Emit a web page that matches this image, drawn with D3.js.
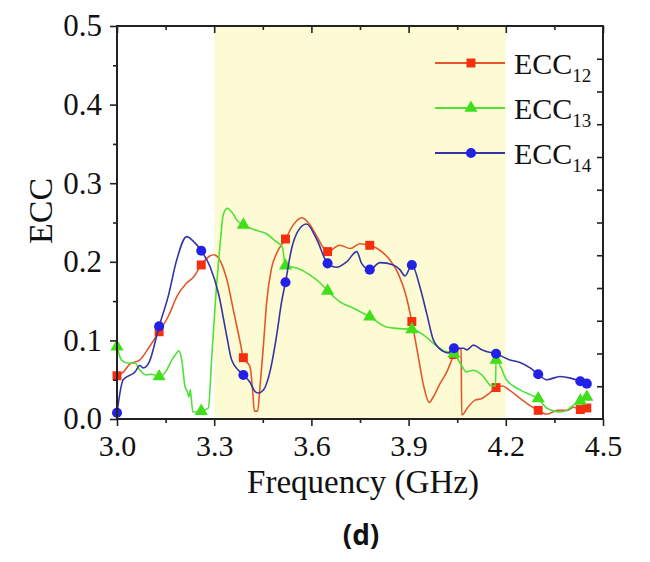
<!DOCTYPE html>
<html>
<head>
<meta charset="utf-8">
<script src="https://cdn.jsdelivr.net/npm/d3@7"></script>
<style>
  html, body { margin: 0; padding: 0; background: #fff; }
  svg { display: block; }
</style>
</head>
<body>
<svg id="chart" width="650" height="562"></svg>
<script>
// ---------------- DATA ----------------
const xTicks = [3.0, 3.3, 3.6, 3.9, 4.2, 4.5];
const yTicks = [0.0, 0.1, 0.2, 0.3, 0.4, 0.5];
const bandStart = 3.3, bandEnd = 4.2;
const markerFreqs = [3.0, 3.13, 3.26, 3.39, 3.52, 3.65, 3.78, 3.91, 4.04, 4.17, 4.30, 4.43, 4.45];

const freq12 = [3.00,3.02,3.04,3.07,3.10,3.13,3.16,3.185,3.215,3.235,3.26,3.285,3.30,3.32,3.34,3.36,3.38,3.39,3.41,3.418,3.424,3.434,3.441,3.452,3.462,3.477,3.493,3.52,3.544,3.57,3.596,3.616,3.65,3.688,3.72,3.75,3.78,3.81,3.843,3.868,3.89,3.91,3.93,3.945,3.964,3.976,3.997,4.018,4.04,4.05,4.062,4.064,4.085,4.105,4.126,4.15,4.17,4.19,4.21,4.245,4.275,4.30,4.326,4.36,4.39,4.41,4.43,4.45];
const ecc12  = [0.055,0.060,0.070,0.075,0.092,0.111,0.132,0.156,0.173,0.180,0.196,0.207,0.209,0.200,0.176,0.137,0.098,0.078,0.067,0.040,0.010,0.010,0.039,0.094,0.149,0.192,0.211,0.229,0.247,0.256,0.247,0.233,0.213,0.221,0.217,0.223,0.221,0.215,0.202,0.185,0.160,0.124,0.079,0.045,0.021,0.028,0.045,0.060,0.082,0.090,0.088,0.005,0.016,0.024,0.026,0.033,0.040,0.042,0.037,0.026,0.017,0.011,0.006,0.011,0.011,0.015,0.012,0.014];

const freq13 = [3.00,3.014,3.035,3.056,3.071,3.09,3.106,3.13,3.15,3.169,3.184,3.19,3.20,3.21,3.217,3.222,3.226,3.234,3.246,3.26,3.282,3.292,3.302,3.318,3.328,3.34,3.36,3.37,3.39,3.43,3.46,3.49,3.51,3.52,3.555,3.596,3.627,3.65,3.688,3.73,3.78,3.832,3.873,3.91,3.946,3.977,4.007,4.04,4.059,4.079,4.10,4.126,4.157,4.168,4.17,4.202,4.244,4.275,4.30,4.326,4.367,4.388,4.41,4.43,4.45];
const ecc13  = [0.092,0.075,0.071,0.071,0.062,0.056,0.057,0.054,0.060,0.075,0.084,0.087,0.075,0.041,0.035,0.028,0.037,0.009,0.009,0.010,0.014,0.075,0.139,0.221,0.260,0.268,0.260,0.253,0.247,0.240,0.236,0.226,0.219,0.195,0.192,0.183,0.173,0.163,0.149,0.141,0.130,0.117,0.115,0.114,0.107,0.096,0.087,0.083,0.071,0.060,0.062,0.056,0.042,0.042,0.075,0.050,0.037,0.031,0.026,0.014,0.009,0.011,0.018,0.023,0.028];

const freq14 = [3.00,3.019,3.056,3.07,3.081,3.10,3.13,3.158,3.184,3.215,3.236,3.26,3.287,3.313,3.339,3.354,3.39,3.41,3.426,3.435,3.452,3.472,3.493,3.508,3.52,3.539,3.56,3.585,3.616,3.65,3.678,3.709,3.74,3.755,3.78,3.812,3.853,3.873,3.889,3.91,3.935,3.956,3.977,4.007,4.022,4.04,4.07,4.08,4.10,4.126,4.14,4.17,4.213,4.244,4.275,4.30,4.326,4.367,4.40,4.43,4.45];
const ecc14  = [0.008,0.050,0.060,0.068,0.065,0.073,0.118,0.156,0.202,0.232,0.226,0.214,0.194,0.160,0.105,0.075,0.056,0.047,0.035,0.033,0.037,0.060,0.107,0.149,0.174,0.217,0.240,0.248,0.229,0.198,0.193,0.200,0.213,0.198,0.190,0.199,0.196,0.190,0.182,0.196,0.168,0.134,0.100,0.086,0.084,0.090,0.090,0.088,0.094,0.088,0.086,0.083,0.075,0.072,0.065,0.057,0.050,0.054,0.052,0.048,0.045];

const seriesNames = ["12", "13", "14"];
const lineColors = ["#e2582c", "#4fe03a", "#3434a6"];
const markerColors = ["#f52e10", "#3fe01a", "#2222e6"];
const markerShapes = [d3.symbolSquare, d3.symbolTriangle, d3.symbolCircle];

// ---------------- LAYOUT ----------------
const svg = d3.select("#chart");
const L = 117, R = 603, T = 26, B = 419;
const x = d3.scaleLinear().domain([3.0, 4.5]).range([L, R]);
const y = d3.scaleLinear().domain([0, 0.5]).range([B, T]);
const yRight = d3.scaleLinear().domain([0, 0.6]).range([B, T]);
const serif = "'Liberation Serif','Times New Roman',serif";
const axisColor = "#222";

// band
svg.append("rect")
  .attr("x", x(bandStart)).attr("y", T)
  .attr("width", x(bandEnd) - x(bandStart)).attr("height", B - T)
  .attr("fill", "#fdfbd3");

// series
const series = [
  {f: freq12, v: ecc12},
  {f: freq13, v: ecc13},
  {f: freq14, v: ecc14}
];
const line = d3.line().x(d => x(d[0])).y(d => y(d[1])).curve(d3.curveMonotoneX);
const plot = svg.append("g");
series.forEach((s, i) => {
  const pts = s.f.map((f, k) => [f, s.v[k]]);
  plot.append("path").datum(pts)
    .attr("d", line).attr("fill", "none")
    .attr("stroke", lineColors[i]).attr("stroke-width", 1.6)
    .attr("stroke-linejoin", "round");
  const mpts = pts.filter(p => markerFreqs.some(m => Math.abs(m - p[0]) < 1e-6));
  plot.selectAll(null).data(mpts).enter().append("path")
    .attr("d", d3.symbol().type(markerShapes[i]).size(i === 1 ? 75 : 80))
    .attr("transform", d => `translate(${x(d[0])},${y(d[1])})`)
    .attr("fill", markerColors[i]);
});

// axes
function styleAxis(g) {
  g.selectAll(".domain").remove();
  g.selectAll("line").attr("stroke", axisColor).attr("stroke-width", 1.6);
}
const fmt = d3.format(".1f");
// bottom major
svg.append("g").attr("transform", `translate(0,${B})`)
  .call(d3.axisBottom(x).tickValues(xTicks).tickFormat(fmt).tickSize(7).tickPadding(9))
  .call(styleAxis)
  .selectAll("text").attr("font-family", serif).attr("font-size", 30).attr("fill", "#111");
// bottom minor
svg.append("g").attr("transform", `translate(0,${B})`)
  .call(d3.axisBottom(x).tickValues(d3.range(3.15, 4.5, 0.3)).tickFormat("").tickSize(4))
  .call(styleAxis);
// top ticks (inward)
svg.append("g").attr("transform", `translate(0,${T})`)
  .call(d3.axisTop(x).tickValues(xTicks).tickFormat("").tickSize(-7))
  .call(styleAxis);
svg.append("g").attr("transform", `translate(0,${T})`)
  .call(d3.axisTop(x).tickValues(d3.range(3.15, 4.5, 0.3)).tickFormat("").tickSize(-4))
  .call(styleAxis);
// left major
svg.append("g").attr("transform", `translate(${L},0)`)
  .call(d3.axisLeft(y).tickValues(yTicks).tickFormat(fmt).tickSize(7).tickPadding(8))
  .call(styleAxis)
  .selectAll("text").attr("font-family", serif).attr("font-size", 31).attr("fill", "#111");
svg.append("g").attr("transform", `translate(${L},0)`)
  .call(d3.axisLeft(y).tickValues(d3.range(0.05, 0.5, 0.1)).tickFormat("").tickSize(4))
  .call(styleAxis);
// right ticks (inward)
svg.append("g").attr("transform", `translate(${R},0)`)
  .call(d3.axisRight(yRight).tickValues(d3.range(0.05, 0.6, 0.05)).tickFormat("").tickSize(-6))
  .call(styleAxis);

// frame
svg.append("rect").attr("x", L).attr("y", T).attr("width", R - L).attr("height", B - T)
  .attr("fill", "none").attr("stroke", axisColor).attr("stroke-width", 2);

// axis titles
svg.append("text").attr("x", (L + R) / 2 + 3).attr("y", 493)
  .attr("text-anchor", "middle").attr("font-family", serif).attr("font-size", 33).attr("fill", "#111")
  .text("Frequency (GHz)");
svg.append("text").attr("transform", "translate(52,211) rotate(-90)")
  .attr("text-anchor", "middle").attr("font-family", serif).attr("font-size", 34).attr("fill", "#111")
  .text("ECC");

// legend
const legendRows = [63, 108, 153];
seriesNames.forEach((n, i) => {
  const g = svg.append("g").attr("transform", `translate(0,${legendRows[i]})`);
  g.append("line").attr("x1", 435).attr("x2", 505).attr("y1", 0).attr("y2", 0)
    .attr("stroke", lineColors[i]).attr("stroke-width", 1.8);
  g.append("path").attr("d", d3.symbol().type(markerShapes[i]).size(i === 1 ? 75 : 80))
    .attr("transform", "translate(471,0)").attr("fill", markerColors[i]);
  const t = g.append("text").attr("x", 514).attr("y", 11)
    .attr("font-family", serif).attr("font-size", 30).attr("fill", "#111");
  t.append("tspan").text("ECC");
  t.append("tspan").attr("font-size", 19).attr("dy", 8).text(n);
});

// panel label
svg.append("text").attr("x", 361).attr("y", 545).attr("text-anchor", "middle")
  .attr("font-family", "'Open Sans','Liberation Sans',Arial,sans-serif").attr("font-weight", "bold")
  .attr("font-size", 28).attr("fill", "#111").text("(d)");
</script>
</body>
</html>
